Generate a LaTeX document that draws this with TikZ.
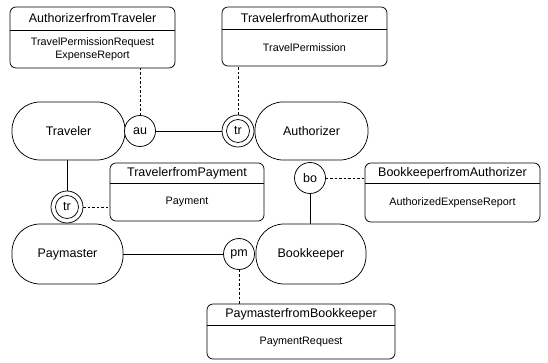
\documentclass[tikz,border=0pt]{standalone}
\usepackage{fontspec}
\setmainfont{Liberation Sans}
\begin{document}
\begin{tikzpicture}[x=1pt,y=-1pt,line width=0.75pt,
  actor/.style={draw, rounded corners=28pt, inner sep=0pt, outer sep=0pt, font=\fontsize{12.5}{14}\selectfont},
  port/.style={draw, circle, minimum size=31pt, inner sep=0pt, outer sep=0pt, fill=white, font=\fontsize{12.5}{14}\selectfont},
  innerport/.style={draw, circle, minimum size=23pt, inner sep=0pt, outer sep=0pt, font=\fontsize{12.5}{14}\selectfont},
  mbox/.style={draw, rounded corners=6pt, inner sep=0pt, outer sep=0pt},
  titletext/.style={inner sep=0pt, font=\fontsize{12.5}{14}\selectfont},
  bodytext/.style={inner sep=0pt, align=center, font=\fontsize{10.8}{13}\selectfont},
  link/.style={draw},
  dlink/.style={draw, dash pattern=on 2.5pt off 2pt}]
\useasboundingbox (0,0) rectangle (548,363);
\newcommand\msgbox[8]{%
  \node[mbox, minimum width={(#4-#2)*1pt}, minimum height={(#5-#3)*1pt}] (#1) at ({(#2+#4)/2},{(#3+#5)/2}) {};
  \draw (#1.west |- 0,#6) -- (#1.east |- 0,#6);
  \node[titletext] (#1-t) at ({(#2+#4)/2},{(#3+#6)/2}) {#7};
  \node[bodytext] (#1-b) at ({(#2+#4)/2},{(#6+#5)/2}) {#8};
}
\newcommand\actornode[6]{%
  \node[actor, minimum width={(#4-#2)*1pt}, minimum height={(#5-#3)*1pt}] (#1) at ({(#2+#4)/2},{(#3+#5)/2}) {#6};
}
% message boxes
\msgbox{atb}{10}{7}{175}{68}{30}{AuthorizerfromTraveler}{TravelPermissionRequest\\ExpenseReport}
\msgbox{tfa}{222}{7}{387}{66}{29}{TravelerfromAuthorizer}{TravelPermission}
\msgbox{tfp}{110}{163}{264}{221}{183}{TravelerfromPayment}{Payment}
\msgbox{bfa}{365}{163}{540}{222}{183}{BookkeeperfromAuthorizer}{AuthorizedExpenseReport}
\msgbox{pfb}{207}{304}{395}{359}{325}{PaymasterfromBookkeeper}{PaymentRequest}
% actors
\actornode{trav}{12}{102}{125}{160}{Traveler}
\actornode{auth}{255}{102}{368}{160}{Authorizer}
\actornode{pay}{12}{224}{123}{284}{Paymaster}
\actornode{book}{256}{224}{366}{284}{Bookkeeper}
% ports
\node[port] (au) at (140,131) {au};
\node[port, minimum size=32pt] (tr1) at (238,131) {};
\node[innerport] (tr1i) at (tr1.center) {tr};
\node[port, minimum size=32pt] (tr2) at (67,207) {};
\node[innerport] (tr2i) at (tr2.center) {tr};
\node[port] (bo) at (310,178) {bo};
\node[port] (pm) at (239,254) {pm};
% connectors
\draw[link] (au.east) -- (tr1.west);
\draw[dlink] (au.north) -- (au.north |- atb.south);
\draw[dlink] (tr1.north) -- (tr1.north |- tfa.south);
\draw[link] (tr2.north |- trav.south) -- (tr2.north);
\draw[dlink] (tr2.east) -- (tr2.east -| tfp.west);
\draw[link] (pay.east) -- (pm.west);
\draw[link] (bo.south) -- (bo.south |- book.north);
\draw[dlink] (bo.east) -- (bo.east -| bfa.west);
\draw[dlink] (pm.south) -- (pm.south |- pfb.north);
\end{tikzpicture}
\end{document}
